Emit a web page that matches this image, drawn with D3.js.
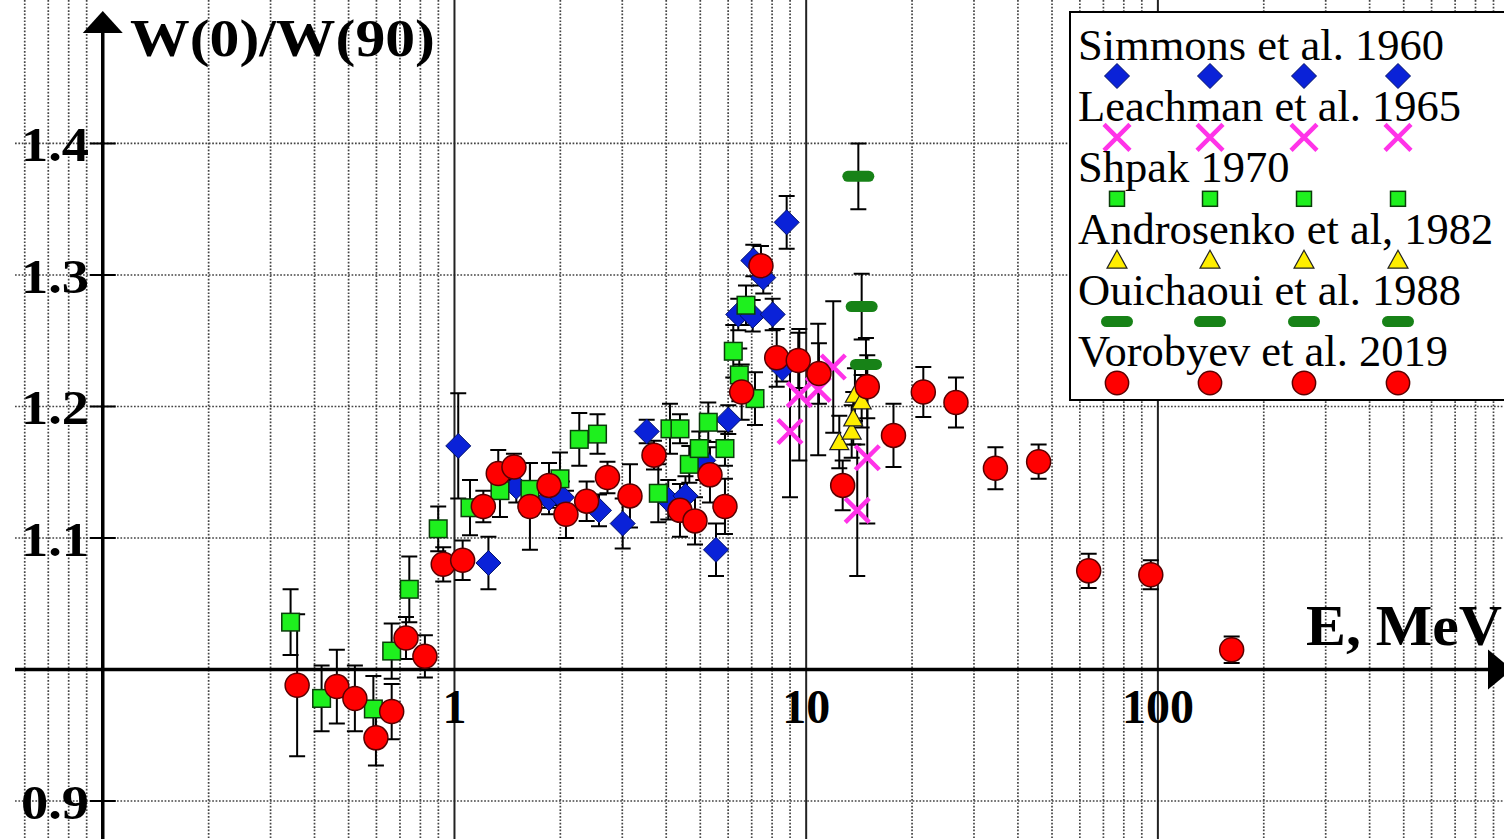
<!DOCTYPE html>
<html>
<head>
<meta charset="utf-8">
<script src="https://cdn.jsdelivr.net/npm/d3@7"></script>
<style>
  html, body { margin: 0; padding: 0; background: #fff; overflow: hidden; }
  svg { display: block; }
  text { font-family: "Liberation Serif", "Times New Roman", serif; fill: #000; }
</style>
</head>
<body>
<div id="chart"></div>
<script>
// ---- data (E in MeV, W(0)/W(90), error) ----
const simmonsE = [1.025, 1.249, 1.499, 1.857, 2.021, 2.576, 3.008, 3.52, 4.054, 4.537, 5.098, 5.541, 6.005, 6.411, 7.046, 7.074, 7.551, 8.03, 8.562, 8.801]
const simmonsW = [1.170, 1.081, 1.139, 1.130, 1.131, 1.121, 1.111, 1.181, 1.129, 1.132, 1.159, 1.091, 1.190, 1.270, 1.269, 1.311, 1.298, 1.270, 1.229, 1.340]
const simmonsErr = [0.040, 0.020, 0.012, 0.012, 0.012, 0.012, 0.019, 0.009, 0.015, 0.015, 0.015, 0.020, 0.011, 0.012, 0.012, 0.012, 0.012, 0.012, 0.010, 0.020]

const leachmanE = [8.995, 9.559, 10.82, 11.94, 13.97, 14.92]
const leachmanW = [1.181, 1.209, 1.213, 1.230, 1.121, 1.161]
const leachmanErr = [0.05, 0.05, 0.05, 0.05, 0.05, 0.05]

const shpakE = [0.342, 0.419, 0.588, 0.663, 0.744, 0.899, 1.107, 1.347, 1.639, 1.995, 2.264, 2.551, 3.798, 4.10, 4.377, 4.652, 4.966, 5.268, 5.876, 6.205, 6.454, 6.743, 7.152]
const shpakW = [1.036, 0.978, 0.970, 1.014, 1.061, 1.107, 1.123, 1.136, 1.137, 1.145, 1.175, 1.179, 1.134, 1.183, 1.183, 1.156, 1.168, 1.188, 1.168, 1.242, 1.224, 1.277, 1.206]
const shpakErr = [0.025, 0.025, 0.025, 0.021, 0.025, 0.017, 0.021, 0.020, 0.020, 0.020, 0.020, 0.015, 0.022, 0.019, 0.011, 0.014, 0.013, 0.015, 0.013, 0.020, 0.020, 0.015, 0.020]

const androsenkoE = [12.42, 13.47, 13.61, 13.76, 14.38]
const androsenkoW = [1.173, 1.181, 1.191, 1.209, 1.204]
const androsenkoErr = [0.02, 0.02, 0.02, 0.02, 0.02]

const ouichaouiE = [14.07, 14.38, 14.79]
const ouichaouiW = [1.375, 1.276, 1.232]
const ouichaouiErr = [0.025, 0.025, 0.02]

const vorobyevE = [0.357, 0.463, 0.521, 0.598, 0.663, 0.728, 0.824, 0.929, 1.055, 1.208, 1.332, 1.476, 1.639, 1.857, 2.075, 2.376, 2.723, 3.155, 3.692, 4.377, 4.829, 5.327, 5.876, 6.556, 7.438, 8.245, 9.495, 10.87, 12.70, 14.92, 17.71, 21.53, 26.66, 34.52, 45.8, 63.57, 95.46, 162.1]
const vorobyevW = [0.988, 0.987, 0.978, 0.948, 0.968, 1.024, 1.010, 1.080, 1.083, 1.124, 1.149, 1.154, 1.124, 1.140, 1.118, 1.128, 1.146, 1.132, 1.163, 1.121, 1.113, 1.148, 1.124, 1.211, 1.307, 1.237, 1.235, 1.225, 1.140, 1.215, 1.178, 1.211, 1.203, 1.153, 1.158, 1.075, 1.072, 1.015]
const vorobyevErr = [0.054, 0.028, 0.025, 0.021, 0.021, 0.016, 0.016, 0.013, 0.015, 0.012, 0.018, 0.010, 0.033, 0.017, 0.018, 0.015, 0.012, 0.024, 0.011, 0.020, 0.018, 0.021, 0.021, 0.021, 0.015, 0.022, 0.021, 0.023, 0.019, 0.024, 0.024, 0.019, 0.019, 0.016, 0.013, 0.013, 0.011, 0.010]

const yTickValues = [0.9, 1.1, 1.2, 1.3, 1.4]
const xTickValues = [1, 10, 100]
const xTickLabels = ['1', '10', '100']

const W = 1504, H = 839

const svg = d3.select('#chart').append('svg')
  .attr('width', W)
  .attr('height', H)

// scales: log energy axis, linear anisotropy axis
const x = d3.scaleLog().domain([0.05103, 964]).range([0, W])
const y = d3.scaleLinear().domain([0.8711, 1.5091]).range([H, 0])

const isDecade = d => Math.abs(Math.log10(d) - Math.round(Math.log10(d))) < 1e-9

// ---- grid ----
const gridG = svg.append('g').attr('class', 'grid')
gridG.selectAll('line.vminor')
  .data(x.ticks().filter(d => !isDecade(d)))
  .join('line')
  .attr('x1', d => x(d)).attr('x2', d => x(d))
  .attr('y1', 0).attr('y2', H)
  .attr('stroke', '#444').attr('stroke-width', 1.7)
  .attr('stroke-dasharray', '1.7,1.7')
gridG.selectAll('line.h')
  .data(yTickValues)
  .join('line')
  .attr('x1', 15).attr('x2', W)
  .attr('y1', d => y(d)).attr('y2', d => y(d))
  .attr('stroke', '#444').attr('stroke-width', 1.7)
  .attr('stroke-dasharray', '1.7,1.7')
gridG.selectAll('line.vmajor')
  .data(xTickValues)
  .join('line')
  .attr('x1', d => x(d)).attr('x2', d => x(d))
  .attr('y1', 0).attr('y2', H)
  .attr('stroke', '#222').attr('stroke-width', 2)

// ---- axes ----
const axisG = svg.append('g').attr('class', 'axes')
const x0 = x(0.1), y0 = y(1)
axisG.append('line')
  .attr('x1', x0).attr('x2', x0).attr('y1', H).attr('y2', 28)
  .attr('stroke', '#000').attr('stroke-width', 3.5)
axisG.append('path')
  .attr('d', `M${x0},11 L${x0 + 20},33 L${x0 - 20},33 Z`)
  .attr('fill', '#000')
axisG.append('line')
  .attr('x1', 15).attr('x2', 1492).attr('y1', y0).attr('y2', y0)
  .attr('stroke', '#000').attr('stroke-width', 3.5)
axisG.append('path')
  .attr('d', `M1512,${y0} L1488,${y0 - 20} L1488,${y0 + 20} Z`)
  .attr('fill', '#000')

axisG.selectAll('line.ytick')
  .data(yTickValues)
  .join('line')
  .attr('x1', x0 - 13).attr('x2', x0 + 13)
  .attr('y1', d => y(d)).attr('y2', d => y(d))
  .attr('stroke', '#000').attr('stroke-width', 2)
axisG.selectAll('text.ylab')
  .data(yTickValues)
  .join('text')
  .attr('x', 89).attr('y', d => y(d) + 18)
  .attr('text-anchor', 'end')
  .attr('font-size', 49).attr('font-weight', 'bold')
  .attr('textLength', 68).attr('lengthAdjust', 'spacingAndGlyphs')
  .text(d => d3.format('.1f')(d))
axisG.selectAll('text.xlab')
  .data(xTickValues)
  .join('text')
  .attr('x', d => x(d)).attr('y', 723)
  .attr('text-anchor', 'middle')
  .attr('font-size', 48).attr('font-weight', 'bold')
  .text((d, i) => xTickLabels[i])

axisG.append('text')
  .attr('x', 130).attr('y', 56)
  .attr('font-size', 52).attr('font-weight', 'bold')
  .attr('textLength', 305).attr('lengthAdjust', 'spacingAndGlyphs')
  .text('W(0)/W(90)')
axisG.append('text')
  .attr('x', 1306).attr('y', 645)
  .attr('font-size', 56).attr('font-weight', 'bold')
  .attr('textLength', 196).attr('lengthAdjust', 'spacingAndGlyphs')
  .text('E, MeV')

// ---- markers ----
function drawMarker(g, kind, k = 1) {
  if (kind === 'diamond') {
    const r = 12.5 * k
    g.append('path').attr('d', `M0,${-r} L${r},0 L0,${r} L${-r},0 Z`)
      .attr('fill', '#0a22d8').attr('stroke', '#00106a').attr('stroke-width', 1)
  } else if (kind === 'cross') {
    const r = 12 * k
    g.append('path').attr('d', `M${-r},${-r} L${r},${r} M${-r},${r} L${r},${-r}`)
      .attr('stroke', '#ff33e8').attr('stroke-width', 4.5).attr('fill', 'none')
  } else if (kind === 'square') {
    const r = 8.8 * k
    g.append('rect').attr('x', -r).attr('y', -r).attr('width', 2 * r).attr('height', 2 * r)
      .attr('fill', '#1ef01e').attr('stroke', '#0b3d0b').attr('stroke-width', 1.5)
  } else if (kind === 'triangle') {
    const r = 9.5 * k
    g.append('path').attr('d', `M0,${-r} L${r},${r * 0.8} L${-r},${r * 0.8} Z`)
      .attr('fill', '#ffee00').attr('stroke', '#222').attr('stroke-width', 1.2)
  } else if (kind === 'dash') {
    g.append('rect').attr('x', -16 * k).attr('y', -5.5 * k)
      .attr('width', 32 * k).attr('height', 11 * k).attr('rx', 5.5 * k)
      .attr('fill', '#178217')
  } else {
    g.append('circle').attr('r', 12 * k)
      .attr('fill', '#ff0000').attr('stroke', '#5a0000').attr('stroke-width', 1.5)
  }
}

const series = [
  { name: 'Simmons et al. 1960', E: simmonsE, W: simmonsW, err: simmonsErr, kind: 'diamond', lk: 1 },
  { name: 'Leachman et al. 1965', E: leachmanE, W: leachmanW, err: leachmanErr, kind: 'cross', lk: 1.08 },
  { name: 'Shpak 1970', E: shpakE, W: shpakW, err: shpakErr, kind: 'square', lk: 0.85 },
  { name: 'Androsenko et al, 1982', E: androsenkoE, W: androsenkoW, err: androsenkoErr, kind: 'triangle', lk: 1.05 },
  { name: 'Ouichaoui et al. 1988', E: ouichaouiE, W: ouichaouiW, err: ouichaouiErr, kind: 'dash', lk: 1 },
  { name: 'Vorobyev et al. 2019', E: vorobyevE, W: vorobyevW, err: vorobyevErr, kind: 'circle', lk: 0.97 }
]

const dataG = svg.append('g').attr('class', 'data')
const cap = 8
// error bars first, markers on top
series.forEach(s => {
  const pts = s.E.map((e, i) => ({ e, w: s.W[i], d: s.err[i] }))
  const eg = dataG.append('g').attr('class', 'err')
    .attr('stroke', '#000').attr('stroke-width', 2)
  eg.selectAll('path')
    .data(pts)
    .join('path')
    .attr('fill', 'none')
    .attr('d', p => {
      const px = x(p.e), top = y(p.w + p.d), bot = y(p.w - p.d)
      return `M${px},${top} L${px},${bot} M${px - cap},${top} L${px + cap},${top} M${px - cap},${bot} L${px + cap},${bot}`
    })
})
series.forEach(s => {
  const pts = s.E.map((e, i) => ({ e, w: s.W[i] }))
  dataG.append('g').selectAll('g')
    .data(pts)
    .join('g')
    .attr('transform', p => `translate(${x(p.e)},${y(p.w)})`)
    .each(function () { drawMarker(d3.select(this), s.kind) })
})

// ---- legend ----
const legendG = svg.append('g').attr('class', 'legend')
legendG.append('rect')
  .attr('x', 1070).attr('y', 12).attr('width', 460).attr('height', 388)
  .attr('fill', '#fff').attr('stroke', '#000').attr('stroke-width', 2)
const legendMarkX = [1117, 1210, 1304, 1398]
series.forEach((s, i) => {
  legendG.append('text')
    .attr('x', 1078).attr('y', 60 + i * 61.2)
    .attr('font-size', 44.5)
    .text(s.name)
  legendMarkX.forEach(mx => {
    const g = legendG.append('g').attr('transform', `translate(${mx},${76 + i * 61.4})`)
    drawMarker(g, s.kind, s.lk)
  })
})
</script>
</body>
</html>
